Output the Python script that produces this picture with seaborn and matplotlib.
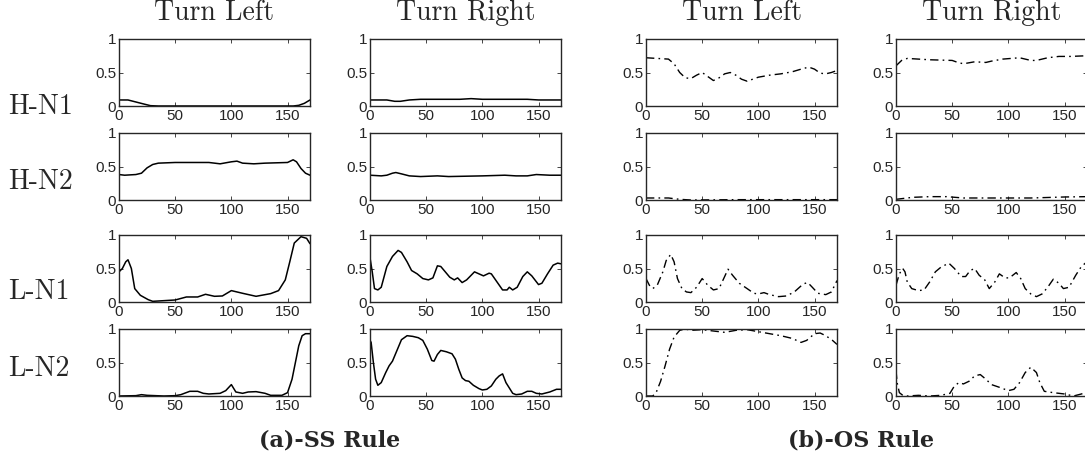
"""
Figure 4x4 : réponses des neurones (H-N1, H-N2, L-N1, L-N2)
pour les règles SS et OS, virage à gauche / à droite.
"""

import numpy as np
import matplotlib.pyplot as plt
import seaborn as sns


# =====================================================================
# 0. DONNÉES
# =====================================================================

rows = ["H-N1", "H-N2", "L-N1", "L-N2"]
turns = ["Turn Left", "Turn Right"]
rules = ["(a)-SS Rule", "(b)-OS Rule"]
x_ticks = [0, 50, 100, 150]
y_ticks = [0, 0.5, 1]
y_tick_labels = ["0", "0.5", "1"]

# --- SS rule ---
ss_hn1_left_x = [0, 8, 15, 22, 28, 35, 60, 100, 150, 155, 160, 165, 170]
ss_hn1_left_y = [0.09, 0.09, 0.06, 0.03, 0.005, 0, 0, 0, 0, 0, 0.01, 0.04, 0.09]
ss_hn1_right_x = [0, 15, 22, 27, 35, 45, 80, 90, 100, 140, 150, 170]
ss_hn1_right_y = [0.09, 0.09, 0.07, 0.07, 0.09, 0.1, 0.1, 0.11, 0.1, 0.1, 0.09, 0.09]

ss_hn2_left_x = [0, 5, 15, 20, 25, 30, 35, 50, 80, 90, 100, 105, 110, 120, 130, 150, 155, 158, 162, 166, 170]
ss_hn2_left_y = [0.38, 0.37, 0.38, 0.4, 0.48, 0.53, 0.55, 0.56, 0.56, 0.54, 0.57, 0.58, 0.55, 0.54, 0.55, 0.56, 0.6, 0.57, 0.47, 0.4, 0.37]
ss_hn2_right_x = [0, 10, 15, 20, 23, 28, 35, 45, 60, 70, 100, 120, 130, 140, 148, 160, 170]
ss_hn2_right_y = [0.37, 0.36, 0.37, 0.4, 0.41, 0.39, 0.36, 0.35, 0.36, 0.35, 0.36, 0.37, 0.36, 0.36, 0.38, 0.37, 0.37]

ss_ln1_left_x = [0, 3, 6, 8, 11, 14, 19, 26, 30, 40, 50, 60, 70, 77, 85, 92, 100, 110, 122, 135, 142, 148, 152, 156, 162, 167, 170]
ss_ln1_left_y = [0.45, 0.5, 0.6, 0.63, 0.5, 0.2, 0.1, 0.035, 0.01, 0.02, 0.03, 0.075, 0.075, 0.115, 0.085, 0.09, 0.17, 0.13, 0.085, 0.125, 0.17, 0.33, 0.6, 0.88, 0.975, 0.95, 0.87]
ss_ln1_right_x = [0, 2, 4, 7, 10, 15, 20, 25, 28, 33, 37, 42, 47, 52, 56, 60, 63, 67, 71, 75, 78, 82, 86, 93, 97, 101, 106, 108,
                  113, 118, 122, 124, 127, 131, 136, 140, 144, 150, 153, 158, 163, 167, 170]
ss_ln1_right_y = [0.66, 0.45, 0.2, 0.18, 0.22, 0.53, 0.68, 0.77, 0.74, 0.6, 0.47, 0.42, 0.35, 0.33, 0.36, 0.54, 0.53, 0.45, 0.37, 0.33, 0.36, 0.29, 0.33, 0.45, 0.42, 0.39, 0.43, 0.42,
                  0.3, 0.18, 0.18, 0.22, 0.18, 0.22, 0.38, 0.45, 0.39, 0.26, 0.28, 0.42, 0.55, 0.58, 0.57]

ss_ln2_left_x = [0, 15, 20, 25, 40, 50, 55, 63, 70, 75, 80, 90, 95, 100, 104, 110, 115, 122, 130, 135, 145, 150, 154, 157, 160, 163, 166, 170]
ss_ln2_left_y = [0, 0.005, 0.02, 0.01, 0, 0.005, 0.02, 0.07, 0.07, 0.04, 0.03, 0.04, 0.08, 0.17, 0.06, 0.04, 0.06, 0.065, 0.04, 0.01, 0.01, 0.05, 0.25, 0.5, 0.75, 0.9, 0.93, 0.93]
ss_ln2_right_x = [0, 1, 3, 5, 7, 10, 14, 17, 20, 24, 28, 33, 38, 43, 47, 51, 55, 57, 60, 63, 68, 73, 76, 79, 82, 85, 88, 92, 97, 100,
                  104, 108, 112, 115, 118, 121, 124, 127, 130, 135, 140, 144, 148, 153, 160, 166, 170]
ss_ln2_right_y = [0.83, 0.8, 0.5, 0.25, 0.16, 0.2, 0.35, 0.45, 0.52, 0.68, 0.84, 0.9, 0.89, 0.87, 0.83, 0.7, 0.53, 0.52, 0.62, 0.68, 0.66, 0.63, 0.55, 0.4, 0.27, 0.23, 0.22, 0.16, 0.11, 0.09,
                  0.1, 0.15, 0.25, 0.3, 0.33, 0.2, 0.12, 0.04, 0.02, 0.03, 0.07, 0.07, 0.04, 0.03, 0.06, 0.1, 0.1]

# --- OS rule ---
os_hn1_left_x = [0, 10, 20, 25, 30, 35, 40, 45, 50, 55, 60, 65, 70, 75, 80, 85, 90, 95, 100, 110, 120, 130, 140, 145, 150, 155, 160, 165, 170]
os_hn1_left_y = [0.72, 0.71, 0.7, 0.63, 0.5, 0.42, 0.41, 0.46, 0.5, 0.44, 0.38, 0.42, 0.48, 0.5, 0.46, 0.4, 0.37, 0.4, 0.43, 0.46, 0.48, 0.51, 0.56, 0.58, 0.55, 0.49, 0.48, 0.5, 0.53]
os_hn1_right_x = [0, 5, 10, 20, 30, 50, 55, 60, 70, 80, 85, 95, 110, 120, 125, 135, 145, 155, 170]
os_hn1_right_y = [0.6, 0.68, 0.71, 0.7, 0.69, 0.68, 0.65, 0.63, 0.66, 0.65, 0.67, 0.7, 0.72, 0.68, 0.68, 0.72, 0.74, 0.74, 0.75]

os_hn2_left_x = [0, 20, 30, 40, 80, 120, 170]
os_hn2_left_y = [0.03, 0.03, 0.01, 0.0, 0.005, 0.005, 0.005]
os_hn2_right_x = [0, 5, 15, 30, 45, 60, 80, 100, 120, 140, 150, 170]
os_hn2_right_y = [0.01, 0.02, 0.04, 0.05, 0.05, 0.03, 0.03, 0.03, 0.03, 0.04, 0.045, 0.05]

os_ln1_left_x = [0, 3, 6, 10, 15, 18, 22, 25, 28, 32, 36, 40, 45, 50, 55, 60, 65, 70, 73, 77, 83, 90, 96, 100,
                 105, 110, 118, 125, 132, 140, 144, 148, 153, 160, 165, 170]
os_ln1_left_y = [0.35, 0.25, 0.2, 0.25, 0.45, 0.62, 0.71, 0.6, 0.35, 0.2, 0.15, 0.14, 0.22, 0.35, 0.25, 0.18, 0.2, 0.38, 0.49, 0.4, 0.28, 0.2, 0.13, 0.12,
                 0.14, 0.11, 0.08, 0.09, 0.15, 0.27, 0.29, 0.22, 0.13, 0.11, 0.15, 0.32]
os_ln1_right_x = [0, 3, 6, 8, 10, 14, 20, 25, 30, 35, 40, 47, 52, 58, 62, 66, 70, 74, 79, 83, 88, 92, 97, 101, 107, 111,
                  115, 120, 125, 130, 135, 140, 145, 149, 154, 160, 165, 170]
os_ln1_right_y = [0.25, 0.42, 0.5, 0.45, 0.3, 0.2, 0.17, 0.18, 0.3, 0.45, 0.52, 0.58, 0.5, 0.38, 0.38, 0.47, 0.5, 0.4, 0.33, 0.2, 0.3, 0.42, 0.36, 0.36, 0.44, 0.35,
                  0.2, 0.12, 0.08, 0.12, 0.22, 0.34, 0.28, 0.2, 0.22, 0.4, 0.53, 0.6]

os_ln2_left_x = [0, 6, 9, 13, 17, 21, 25, 30, 35, 40, 50, 60, 70, 80, 90, 100, 110, 120, 130, 138, 143, 150, 155, 160, 166, 170]
os_ln2_left_y = [0.0, 0.0, 0.05, 0.22, 0.45, 0.7, 0.88, 0.98, 1.0, 0.98, 0.99, 0.97, 0.95, 0.98, 0.99, 0.96, 0.93, 0.9, 0.86, 0.8, 0.83, 0.93, 0.94, 0.9, 0.83, 0.77]
os_ln2_right_x = [0, 1, 3, 6, 10, 20, 30, 40, 48, 52, 56, 60, 65, 70, 75, 80, 85, 92, 100, 105, 110, 115, 120, 125, 128,
                  132, 140, 150, 158, 165, 170]
os_ln2_right_y = [0.38, 0.2, 0.05, 0.01, 0.0, 0.01, 0.0, 0.01, 0.04, 0.15, 0.2, 0.18, 0.22, 0.3, 0.32, 0.25, 0.17, 0.13, 0.08, 0.1, 0.2, 0.35, 0.43, 0.35, 0.2,
                  0.07, 0.05, 0.03, 0.0, 0.03, 0.06]

curves = {
    ("SS", 0, 0): (ss_hn1_left_x, ss_hn1_left_y), ("SS", 0, 1): (ss_hn1_right_x, ss_hn1_right_y),
    ("SS", 1, 0): (ss_hn2_left_x, ss_hn2_left_y), ("SS", 1, 1): (ss_hn2_right_x, ss_hn2_right_y),
    ("SS", 2, 0): (ss_ln1_left_x, ss_ln1_left_y), ("SS", 2, 1): (ss_ln1_right_x, ss_ln1_right_y),
    ("SS", 3, 0): (ss_ln2_left_x, ss_ln2_left_y), ("SS", 3, 1): (ss_ln2_right_x, ss_ln2_right_y),
    ("OS", 0, 0): (os_hn1_left_x, os_hn1_left_y), ("OS", 0, 1): (os_hn1_right_x, os_hn1_right_y),
    ("OS", 1, 0): (os_hn2_left_x, os_hn2_left_y), ("OS", 1, 1): (os_hn2_right_x, os_hn2_right_y),
    ("OS", 2, 0): (os_ln1_left_x, os_ln1_left_y), ("OS", 2, 1): (os_ln1_right_x, os_ln1_right_y),
    ("OS", 3, 0): (os_ln2_left_x, os_ln2_left_y), ("OS", 3, 1): (os_ln2_right_x, os_ln2_right_y),
}


# =====================================================================
# 1. STYLE
# =====================================================================

sns.set_style("ticks")
plt.rcParams["font.family"] = ["Liberation Sans", "DejaVu Sans"]
plt.rcParams["xtick.direction"] = "in"
plt.rcParams["ytick.direction"] = "in"
plt.rcParams["xtick.top"] = True
plt.rcParams["ytick.right"] = True

SERIF = ["cmr10", "DejaVu Serif"]
SERIF_BOLD = ["DejaVu Serif"]

W, H = 1085, 462
col_left = [119, 370, 646, 896]   # pixels
col_w = 191
row_top = [39, 133, 235, 329]
row_h = 67


# =====================================================================
# 2. FIGURE
# =====================================================================

fig = plt.figure(figsize=(W / 100, H / 100), dpi=100)

for c in range(4):
    rule = "SS" if c < 2 else "OS"
    turn = c % 2
    for r in range(4):
        ax = fig.add_axes([col_left[c] / W, 1 - (row_top[r] + row_h) / H, col_w / W, row_h / H])
        x, y = curves[(rule, r, turn)]
        if rule == "SS":
            sns.lineplot(x=x, y=y, ax=ax, color="black", linewidth=1.1, estimator=None, sort=False)
        else:
            sns.lineplot(x=x, y=y, ax=ax, color="black", linewidth=1.0, estimator=None, sort=False,
                         linestyle=(0, (6, 3, 1.2, 3)))
        ax.set_xlim(0, 170); ax.set_ylim(0, 1)
        ax.set_xticks(x_ticks); ax.set_yticks(y_ticks)
        ax.set_yticklabels(y_tick_labels)
        ax.tick_params(length=3, width=0.6, labelsize=11, pad=2)
        for s in ax.spines.values():
            s.set_linewidth(1.0)
        ax.set_xlabel(""); ax.set_ylabel("")

# titres de colonnes
for c in range(4):
    fig.text((col_left[c] + col_w / 2) / W, 1 - 13 / H, turns[c % 2],
             ha="center", va="center", fontsize=20, family=SERIF)

# étiquettes de lignes
for r, y_px in enumerate([107, 182, 292, 369]):
    fig.text(8 / W, 1 - y_px / H, rows[r], ha="left", va="center", fontsize=20, family=SERIF)

# légendes (a) / (b)
fig.text(330 / W, 1 - 440 / H, rules[0], ha="center", va="center", fontsize=16,
         family=SERIF_BOLD, fontweight="bold")
fig.text(861 / W, 1 - 440 / H, rules[1], ha="center", va="center", fontsize=16,
         family=SERIF_BOLD, fontweight="bold")

fig.savefig("out.png", dpi=100)
